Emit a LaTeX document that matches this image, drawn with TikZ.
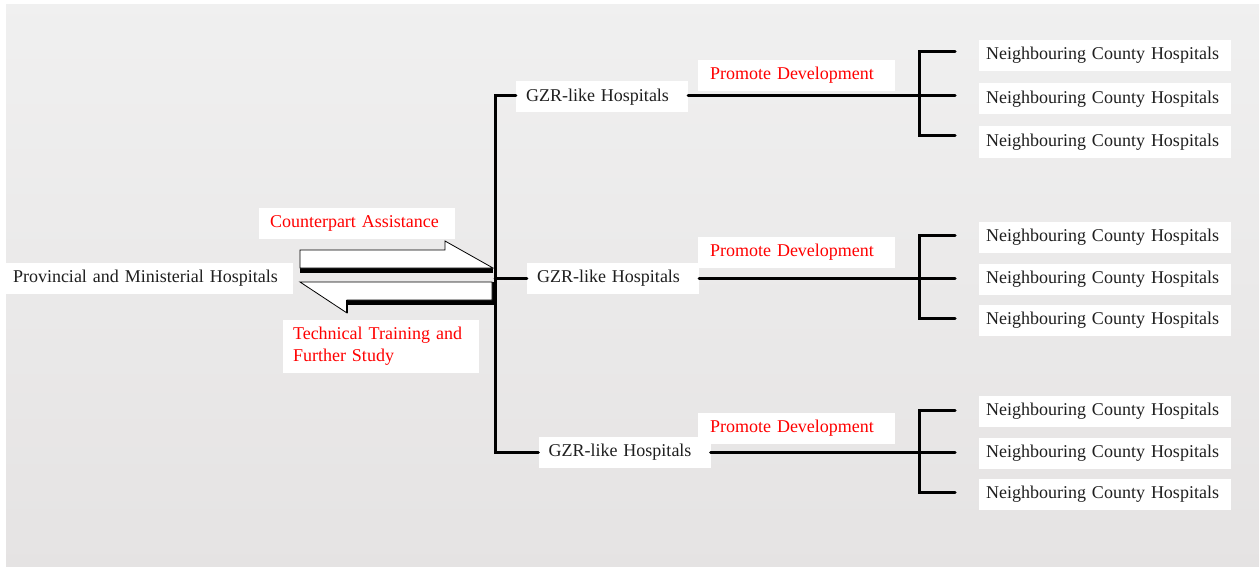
\documentclass[tikz,border=0pt]{standalone}
\usepackage{fontspec}
\setmainfont{Liberation Serif}
\begin{document}
\begin{tikzpicture}[x=1pt,y=-1pt,
  box/.style={fill=white, inner ysep=0pt, minimum height=31pt, align=left, font=\fontsize{18}{22}\selectfont, text=black!88},
  redbox/.style={box, text=red},
  nbox/.style={box, text width=238pt, inner xsep=7pt},
  conn/.style={line width=3pt, line cap=round, line join=miter}]
\useasboundingbox (0,0) rectangle (1260,567);
\shade[top color=black!6, bottom color=black!10!red!1!white!90!black] (6,5) rectangle (1259,567);

% left node and labels
\node[box, text width=273pt, inner xsep=7pt] (prov) at (149.5,278.5) {Provincial and Ministerial Hospitals};
\node[redbox, text width=174pt, inner xsep=11pt] (cp) at (357,223.5) {Counterpart Assistance};
\node[redbox, text width=176pt, inner xsep=10pt, minimum height=53pt] (tt) at (381,346.5) {Technical Training and\\Further Study};

% block arrows
\fill[black] (300,268) rectangle (493,272.5);
\draw[fill=white, line width=0.8pt] (300,250) -- (445,250) -- (445,241) -- (493,268) -- (300,268) -- cycle;
\fill[black] (347,299) rectangle (496,304.5);
\fill[black] (492,282) rectangle (496,304.5);
\draw[fill=white, line width=0.8pt] (300,282) -- (492,282) -- (492,300) -- (347,300) -- (347,313) -- cycle;
\draw[line width=2pt] (347,300) -- (347,313);

% GZR nodes
\node[box, text width=152pt, inner xsep=10pt] (g1) at (602,97) {GZR-like Hospitals};
\node[box, text width=152pt, inner xsep=10pt] (g2) at (613,278.5) {GZR-like Hospitals};
\node[box, text width=152pt, inner xsep=10pt] (g3) at (624.5,452.5) {GZR-like Hospitals};

\coordinate (vt) at (495,96);
\coordinate (vm) at (495,278);
\coordinate (vb) at (495,452);
\draw[conn] (g1.west |- vt) -- (vt) -- (vb) -- (g3.west |- vb);
\draw[conn] (vm) -- (g2.west |- vm);

% promote labels
\node[redbox, text width=173pt, inner xsep=12pt] (p1) at (796.5,75.5) {Promote Development};
\node[redbox, text width=173pt, inner xsep=12pt] (p2) at (796.5,252) {Promote Development};
\node[redbox, text width=173pt, inner xsep=12pt] (p3) at (796.5,428) {Promote Development};

% brackets and neighbouring hospitals
\foreach \i/\ta/\tb/\tc/\na/\nb/\nc in {1/52/96/135/55.5/99/142, 2/235/278/318/237/279/320, 3/410/452/492/411.5/453/494}{
  \coordinate (b\i a) at (919,\ta);
  \coordinate (b\i b) at (919,\tb);
  \coordinate (b\i c) at (919,\tc);
  \coordinate (e\i a) at (955,\ta);
  \coordinate (e\i b) at (955,\tb);
  \coordinate (e\i c) at (955,\tc);
  \draw[conn] (g\i.east |- b\i b) -- (b\i b);
  \draw[conn] (e\i a) -- (b\i a) -- (b\i c) -- (e\i c);
  \draw[conn] (b\i b) -- (e\i b);
  \node[nbox] (n\i a) at (1105,\na) {Neighbouring County Hospitals};
  \node[nbox] (n\i b) at (1105,\nb) {Neighbouring County Hospitals};
  \node[nbox] (n\i c) at (1105,\nc) {Neighbouring County Hospitals};
}
\end{tikzpicture}
\end{document}
